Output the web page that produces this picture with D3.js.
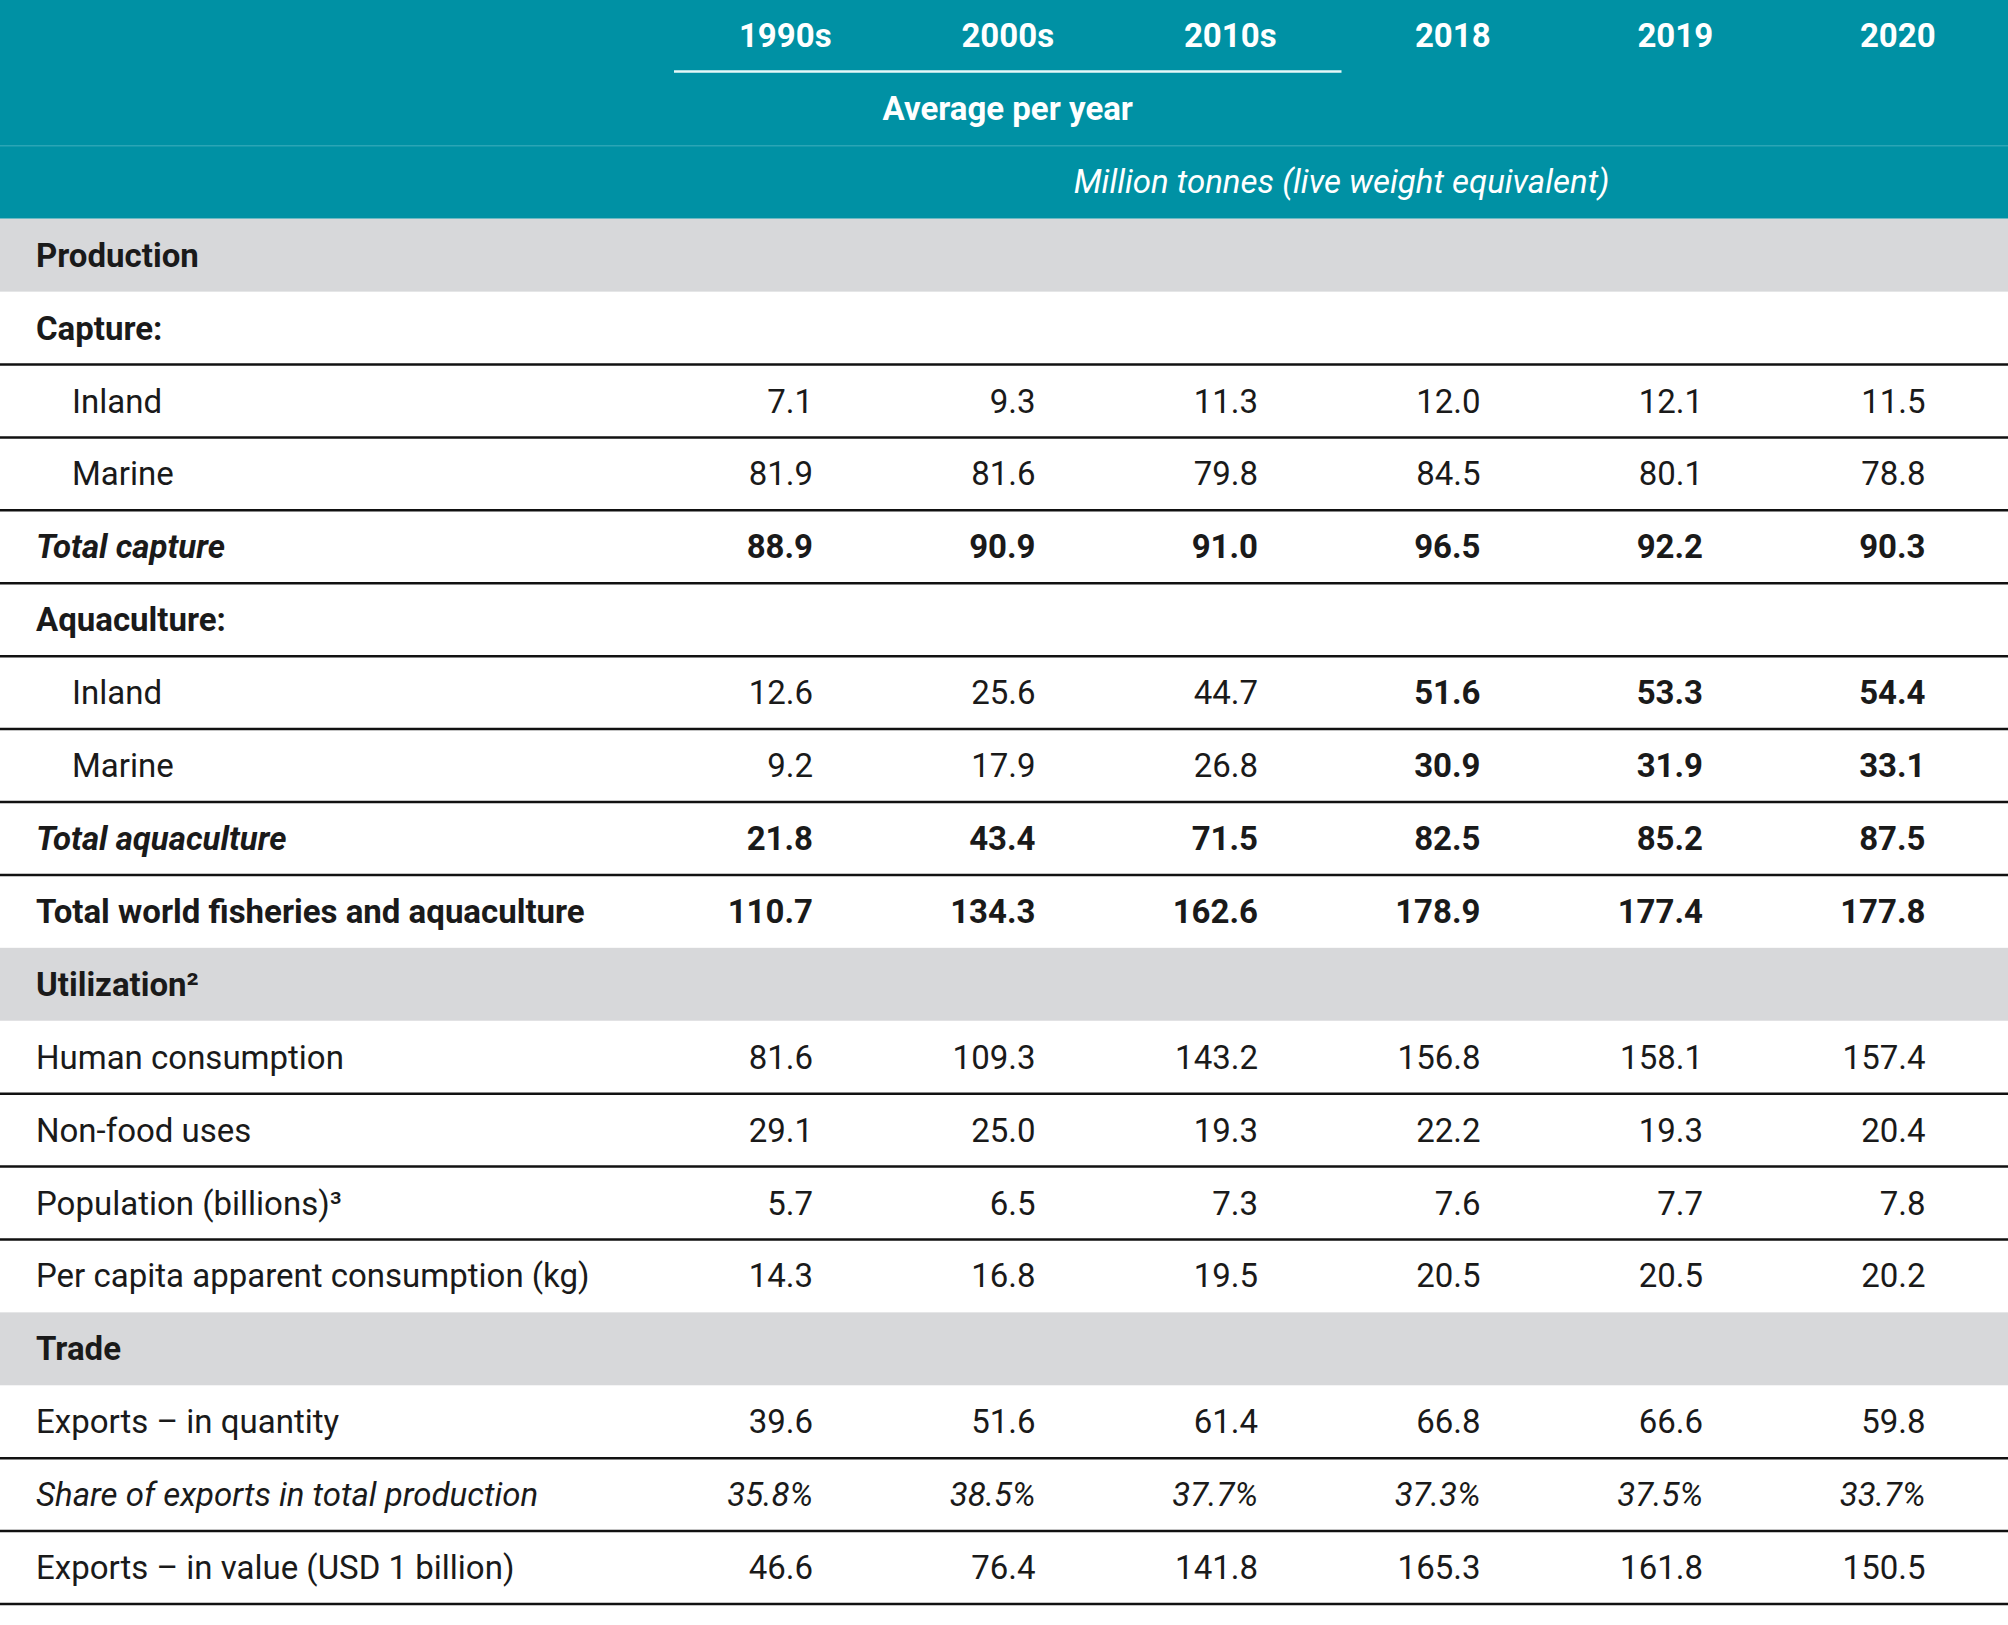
<!DOCTYPE html>
<html>
<head>
<meta charset="utf-8">
<script src="https://cdn.jsdelivr.net/npm/d3@7"></script>
<style>
  html, body { margin: 0; padding: 0; background: #ffffff; }
  svg { display: block; font-family: Roboto, "Noto Sans", sans-serif; }
</style>
</head>
<body>
<svg id="chart" width="2008" height="1625"></svg>
<script>
// ---------- DATA ----------
const columns = ["1990s", "2000s", "2010s", "2018", "2019", "2020"];
const averagedColumns = ["1990s", "2000s", "2010s"];
const averageLabel = "Average per year";
const unitLabel = "Million tonnes (live weight equivalent)";

const rowLabels = [
  "Production",
  "Capture:",
  "Inland",
  "Marine",
  "Total capture",
  "Aquaculture:",
  "Inland",
  "Marine",
  "Total aquaculture",
  "Total world fisheries and aquaculture",
  "Utilization\u00B2",
  "Human consumption",
  "Non-food uses",
  "Population (billions)\u00B3",
  "Per capita apparent consumption (kg)",
  "Trade",
  "Exports \u2013 in quantity",
  "Share of exports in total production",
  "Exports \u2013 in value (USD 1 billion)"
];

const captureInland    = [7.1, 9.3, 11.3, 12.0, 12.1, 11.5];
const captureMarine    = [81.9, 81.6, 79.8, 84.5, 80.1, 78.8];
const totalCapture     = [88.9, 90.9, 91.0, 96.5, 92.2, 90.3];
const aquaInland       = [12.6, 25.6, 44.7, 51.6, 53.3, 54.4];
const aquaMarine       = [9.2, 17.9, 26.8, 30.9, 31.9, 33.1];
const totalAquaculture = [21.8, 43.4, 71.5, 82.5, 85.2, 87.5];
const totalWorld       = [110.7, 134.3, 162.6, 178.9, 177.4, 177.8];
const humanConsumption = [81.6, 109.3, 143.2, 156.8, 158.1, 157.4];
const nonFoodUses      = [29.1, 25.0, 19.3, 22.2, 19.3, 20.4];
const population       = [5.7, 6.5, 7.3, 7.6, 7.7, 7.8];
const perCapita        = [14.3, 16.8, 19.5, 20.5, 20.5, 20.2];
const exportsQuantity  = [39.6, 51.6, 61.4, 66.8, 66.6, 59.8];
const exportShare      = [35.8, 38.5, 37.7, 37.3, 37.5, 33.7];
const exportsValue     = [46.6, 76.4, 141.8, 165.3, 161.8, 150.5];

const rowValues = [
  null, null, captureInland, captureMarine, totalCapture,
  null, aquaInland, aquaMarine, totalAquaculture, totalWorld,
  null, humanConsumption, nonFoodUses, population, perCapita,
  null, exportsQuantity, exportShare, exportsValue
];

// ---------- STYLE (per row kind) ----------
const rowKinds = [
  "section", "group", "item", "item", "total",
  "group", "recent", "recent", "total", "grand",
  "section", "plain", "plain", "plain", "plain",
  "section", "plain", "share", "plain"
];

const TEAL = "#0091a4";
const GREY = "#d7d8da";
const INK = "#1a1a1a";
const FS = 33;

const W = 2008;
const svg = d3.select("#chart");

const headerRows = 3;
const totalRows = headerRows + rowLabels.length;
const y = d3.scaleBand().domain(d3.range(totalRows)).range([0, 1604]);
const x = d3.scaleBand().domain(columns).range([674, 2009]);
const valueRight = c => x(c) + 139;
const fmt = d3.format(".1f");

// ---------- HEADER ----------
svg.append("rect").attr("x", 0).attr("y", 0).attr("width", W)
  .attr("height", y(2) + y.bandwidth()).attr("fill", TEAL);

svg.append("line")
  .attr("x1", 0).attr("x2", W)
  .attr("y1", y(2)).attr("y2", y(2))
  .attr("stroke", "#2ba5b5").attr("stroke-width", 1.5);

svg.append("line")
  .attr("x1", x(averagedColumns[0]))
  .attr("x2", x(averagedColumns[averagedColumns.length - 1]) + x.bandwidth())
  .attr("y1", y(1) - 1.5).attr("y2", y(1) - 1.5)
  .attr("stroke", "#e6f8f8").attr("stroke-width", 2.5);

svg.selectAll("text.col").data(columns).join("text")
  .attr("class", "col")
  .attr("x", c => x(c) + x.bandwidth() / 2)
  .attr("y", y(0) + 47)
  .attr("text-anchor", "middle")
  .attr("fill", "#ffffff")
  .attr("font-weight", 700)
  .attr("font-size", FS)
  .text(c => c);

svg.append("text")
  .attr("x", (x(averagedColumns[0]) + x(averagedColumns[2]) + x.bandwidth()) / 2)
  .attr("y", y(1) + 47)
  .attr("text-anchor", "middle")
  .attr("fill", "#ffffff")
  .attr("font-weight", 700)
  .attr("font-size", FS)
  .text(averageLabel);

svg.append("text")
  .attr("x", (x(columns[0]) + x(columns[columns.length - 1]) + x.bandwidth()) / 2)
  .attr("y", y(2) + 47)
  .attr("text-anchor", "middle")
  .attr("fill", "#ffffff")
  .attr("font-style", "italic")
  .attr("font-size", FS)
  .text(unitLabel);

// ---------- BODY ----------
const rows = rowLabels.map((label, i) => ({
  label, values: rowValues[i], kind: rowKinds[i], idx: i + headerRows
}));

const g = svg.append("g");

g.selectAll("rect.section").data(rows.filter(r => r.kind === "section")).join("rect")
  .attr("class", "section")
  .attr("x", 0).attr("width", W)
  .attr("y", r => y(r.idx)).attr("height", y.bandwidth())
  .attr("fill", GREY);

const ruled = rows.filter((r, i) =>
  r.kind !== "section" && (i === rows.length - 1 || rows[i + 1].kind !== "section"));
g.selectAll("line.rule").data(ruled).join("line")
  .attr("class", "rule")
  .attr("x1", 0).attr("x2", W)
  .attr("y1", r => y(r.idx) + y.bandwidth())
  .attr("y2", r => y(r.idx) + y.bandwidth())
  .attr("stroke", "#111111").attr("stroke-width", 2.5);

g.selectAll("text.label").data(rows).join("text")
  .attr("class", "label")
  .attr("x", r => (r.kind === "item" || r.kind === "recent") ? 72 : 36)
  .attr("y", r => y(r.idx) + 48)
  .attr("fill", INK)
  .attr("font-size", FS)
  .attr("font-weight", r => ["section", "group", "total", "grand"].includes(r.kind) ? 700 : 400)
  .attr("font-style", r => (r.kind === "total" || r.kind === "share") ? "italic" : "normal")
  .text(r => r.label);

const cells = [];
rows.forEach(r => {
  if (!r.values) return;
  r.values.forEach((v, j) => cells.push({ row: r, col: columns[j], j, v }));
});

g.selectAll("text.val").data(cells).join("text")
  .attr("class", "val")
  .attr("x", d => valueRight(d.col))
  .attr("y", d => y(d.row.idx) + 48)
  .attr("text-anchor", "end")
  .attr("fill", INK)
  .attr("font-size", FS)
  .attr("font-weight", d => (d.row.kind === "total" || d.row.kind === "grand" ||
      (d.row.kind === "recent" && d.j >= 3)) ? 700 : 400)
  .attr("font-style", d => d.row.kind === "share" ? "italic" : "normal")
  .text(d => fmt(d.v) + (d.row.kind === "share" ? "%" : ""));
</script>
</body>
</html>
